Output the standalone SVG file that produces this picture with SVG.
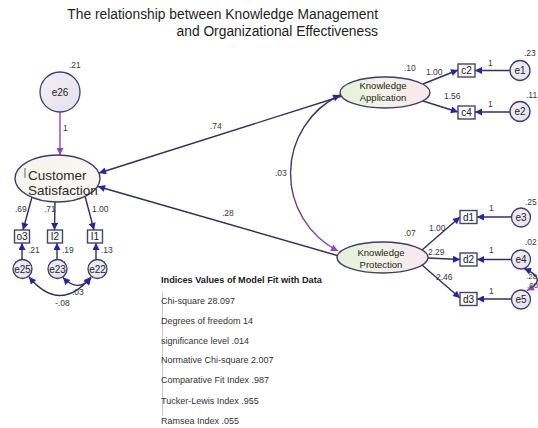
<svg xmlns="http://www.w3.org/2000/svg" width="538" height="428" viewBox="0 0 538 428">
  <style>
    text { font-family: "Liberation Sans", Arial, sans-serif; fill: #2a2a2a; }
    .title { font-size: 13.8px; text-anchor: end; fill: #1e1e1e; }
    .lbl { font-size: 8.5px; fill: #3a3a3a; }
    .nm { font-size: 9.5px; text-anchor: middle; fill: #222; }
    .var { font-size: 10px; text-anchor: middle; fill: #222; }
    .ell { stroke: #3c3c6e; stroke-width: 1.4; }
    .circ { fill: url(#gCirc); stroke: #3c3c6e; stroke-width: 1.3; }
    .box { fill: #fbfbfb; stroke: #45456e; stroke-width: 1.4; }
    .path { fill: none; stroke: #2e2e6a; stroke-width: 1.4; }
    .fit { font-size: 9px; fill: #333; }
    .fit-h { font-size: 9.2px; font-weight: bold; fill: #222; }
  </style>
  <defs>
    <linearGradient id="gLat" x1="0" y1="0" x2="1" y2="0">
      <stop offset="0" stop-color="#e4f1d6"/>
      <stop offset="0.5" stop-color="#f3f2e6"/>
      <stop offset="1" stop-color="#f8e6ee"/>
    </linearGradient>
    <linearGradient id="gCS" x1="0" y1="0" x2="1" y2="0">
      <stop offset="0" stop-color="#f3f5ea"/>
      <stop offset="1" stop-color="#faf6f2"/>
    </linearGradient>
    <linearGradient id="gCirc" x1="0" y1="0" x2="1" y2="1">
      <stop offset="0" stop-color="#f1eef6"/>
      <stop offset="1" stop-color="#e6e2ee"/>
    </linearGradient>
    <linearGradient id="gArc" x1="0" y1="96" x2="0" y2="252" gradientUnits="userSpaceOnUse">
      <stop offset="0" stop-color="#2e2e6a"/>
      <stop offset="0.6" stop-color="#4a3a86"/>
      <stop offset="1" stop-color="#9b45d0"/>
    </linearGradient>
    <marker id="ahB" viewBox="0 0 10 10" refX="10" refY="5" markerWidth="9" markerHeight="7" markerUnits="userSpaceOnUse" orient="auto-start-reverse">
      <path d="M0,0 L10,5 L0,10 z" fill="#2222b4"/>
    </marker>
    <marker id="ahP" viewBox="0 0 10 10" refX="10" refY="5" markerWidth="9" markerHeight="7" markerUnits="userSpaceOnUse" orient="auto-start-reverse">
      <path d="M0,0 L10,5 L0,10 z" fill="#9440cc"/>
    </marker>
  </defs>

  <rect width="538" height="428" fill="#ffffff"/>

  <!-- heading -->
  <text class="title" x="378" y="19">The relationship between Knowledge Management</text>
  <text class="title" x="378" y="36">and Organizational Effectiveness</text>

  <!-- connectors -->
  <g id="connectors">
    <!-- structural paths -->
    <line class="path" x1="342" y1="96" x2="99" y2="173" marker-end="url(#ahB)"/>
    <line class="path" x1="339" y1="256" x2="98" y2="186.5" marker-end="url(#ahB)"/>
    <path d="M 340,95 A 87 87 0 0 0 338,251" fill="none" stroke="url(#gArc)" stroke-width="1.4" marker-start="url(#ahB)" marker-end="url(#ahP)"/>
    <!-- disturbance -->
    <line x1="60" y1="112" x2="60" y2="155" stroke="#9440cc" stroke-width="1.4" marker-end="url(#ahP)"/>
    <!-- Customer Satisfaction indicators -->
    <line class="path" x1="32" y1="197" x2="23" y2="230" marker-end="url(#ahB)"/>
    <line class="path" x1="55" y1="202" x2="54.5" y2="230" marker-end="url(#ahB)"/>
    <line class="path" x1="85" y1="196" x2="94" y2="230" marker-end="url(#ahB)"/>
    <line class="path" x1="22" y1="259.5" x2="22" y2="243" marker-end="url(#ahB)"/>
    <line class="path" x1="57" y1="259.5" x2="57" y2="243" marker-end="url(#ahB)"/>
    <line class="path" x1="96" y1="259.5" x2="96" y2="243" marker-end="url(#ahB)"/>
    <path class="path" d="M 29,277 Q 60,314 91,277" marker-start="url(#ahB)" marker-end="url(#ahB)"/>
    <path class="path" d="M 63,277.5 Q 78,293 91,278" marker-start="url(#ahB)" marker-end="url(#ahB)"/>
    <!-- Knowledge Application indicators -->
    <line class="path" x1="423" y1="84" x2="458" y2="70" marker-end="url(#ahB)"/>
    <line class="path" x1="423" y1="101" x2="458" y2="112" marker-end="url(#ahB)"/>
    <line class="path" x1="510" y1="70.5" x2="475" y2="70.5" marker-end="url(#ahB)"/>
    <line class="path" x1="510" y1="112" x2="475" y2="112" marker-end="url(#ahB)"/>
    <!-- Knowledge Protection indicators -->
    <line class="path" x1="422" y1="250" x2="460" y2="217" marker-end="url(#ahB)"/>
    <line class="path" x1="428" y1="258" x2="460" y2="259.5" marker-end="url(#ahB)"/>
    <line class="path" x1="422" y1="265" x2="460" y2="298" marker-end="url(#ahB)"/>
    <line class="path" x1="511.5" y1="217" x2="477" y2="217" marker-end="url(#ahB)"/>
    <line class="path" x1="511.5" y1="259.5" x2="477" y2="259.5" marker-end="url(#ahB)"/>
    <line class="path" x1="511.5" y1="299" x2="477" y2="299" marker-end="url(#ahB)"/>
    <path class="path" d="M 524,268.5 Q 549,279 527,290.5" marker-start="url(#ahB)" marker-end="url(#ahP)"/>
  </g>

  <!-- path coefficients and variances -->
  <g id="estimates">
    <text class="lbl" x="210" y="129">.74</text>
    <text class="lbl" x="222" y="216">.28</text>
    <text class="lbl" x="275" y="176">.03</text>
    <text class="lbl" x="63" y="131">1</text>
    <text class="lbl" x="69" y="68">.21</text>
    <text class="lbl" x="15" y="212">.69</text>
    <text class="lbl" x="44" y="212">.71</text>
    <text class="lbl" x="92" y="212">1.00</text>
    <text class="lbl" x="28" y="253">.21</text>
    <text class="lbl" x="62" y="253">.19</text>
    <text class="lbl" x="101" y="253">.13</text>
    <text class="lbl" x="72" y="295">.03</text>
    <text class="lbl" x="55" y="306">-.08</text>
    <text class="lbl" x="404" y="71">.10</text>
    <text class="lbl" x="426" y="75">1.00</text>
    <text class="lbl" x="444" y="99">1.56</text>
    <text class="lbl" x="488" y="66">1</text>
    <text class="lbl" x="488" y="107">1</text>
    <text class="lbl" x="524" y="56">.23</text>
    <text class="lbl" x="526" y="98">.11</text>
    <text class="lbl" x="404" y="236">.07</text>
    <text class="lbl" x="429" y="231">1.00</text>
    <text class="lbl" x="428" y="255">2.29</text>
    <text class="lbl" x="436" y="280">2.46</text>
    <text class="lbl" x="489" y="211">1</text>
    <text class="lbl" x="489" y="253">1</text>
    <text class="lbl" x="489" y="294">1</text>
    <text class="lbl" x="525" y="205">.25</text>
    <text class="lbl" x="525" y="245">.02</text>
    <text class="lbl" x="526" y="279" style="font-size:8px">.28</text>
    <text class="lbl" x="527" y="288" style="font-size:8px">.05</text>
  </g>

  <!-- disturbance e26 -->
  <g id="e26">
    <circle class="circ" cx="60" cy="92" r="20"/>
    <text class="var" x="60" y="95.5">e26</text>
  </g>

  <!-- latent: Customer Satisfaction -->
  <g id="customer-satisfaction">
    <ellipse class="ell" cx="57.5" cy="178.5" rx="42.5" ry="23.5" fill="url(#gCS)"/>
    <line x1="25" y1="168" x2="25" y2="178" stroke="#444" stroke-width="0.8"/>
    <text x="28" y="180" style="font-size:13.5px" fill="#1e1e1e">Customer</text>
    <text x="28" y="195" style="font-size:13.5px" fill="#1e1e1e">Satisfaction</text>
  </g>

  <!-- latent: Knowledge Application -->
  <g id="knowledge-application">
    <ellipse class="ell" cx="385" cy="92.5" rx="45" ry="15.5" fill="url(#gLat)"/>
    <text class="nm" x="383" y="88.5">Knowledge</text>
    <text class="nm" x="383" y="100.5">Application</text>
  </g>

  <!-- latent: Knowledge Protection -->
  <g id="knowledge-protection">
    <ellipse class="ell" cx="382.5" cy="257.5" rx="45.5" ry="15.5" fill="url(#gLat)"/>
    <text class="nm" x="381" y="255.5">Knowledge</text>
    <text class="nm" x="381" y="267.5">Protection</text>
  </g>

  <!-- observed: Customer Satisfaction items -->
  <g id="o3"><rect class="box" x="14.5" y="230" width="15" height="13"/><text class="var" x="22" y="240">o3</text></g>
  <g id="I2"><rect class="box" x="47.5" y="230" width="15" height="13"/><text class="var" x="55" y="240">I2</text></g>
  <g id="I1"><rect class="box" x="87.5" y="230" width="15" height="13"/><text class="var" x="95" y="240">I1</text></g>

  <g id="e25"><circle class="circ" cx="22.5" cy="269" r="9.5"/><text class="var" x="22.5" y="272.5">e25</text></g>
  <g id="e23"><circle class="circ" cx="57.5" cy="269" r="9.5"/><text class="var" x="57.5" y="272.5">e23</text></g>
  <g id="e22"><circle class="circ" cx="97.5" cy="269" r="9.5"/><text class="var" x="97.5" y="272.5">e22</text></g>

  <!-- observed: Knowledge Application items -->
  <g id="c2"><rect class="box" x="458" y="64" width="17" height="13"/><text class="var" x="466.5" y="74">c2</text></g>
  <g id="c4"><rect class="box" x="458" y="106" width="17" height="13"/><text class="var" x="466.5" y="116">c4</text></g>
  <g id="e1"><circle class="circ" cx="520" cy="70.5" r="10"/><text class="var" x="520" y="74">e1</text></g>
  <g id="e2"><circle class="circ" cx="520" cy="111.5" r="10"/><text class="var" x="520" y="115">e2</text></g>

  <!-- observed: Knowledge Protection items -->
  <g id="d1"><rect class="box" x="460" y="210.5" width="17" height="13"/><text class="var" x="468.5" y="220.5">d1</text></g>
  <g id="d2"><rect class="box" x="460" y="253" width="17" height="13"/><text class="var" x="468.5" y="263">d2</text></g>
  <g id="d3"><rect class="box" x="460" y="292.5" width="17" height="13"/><text class="var" x="468.5" y="302.5">d3</text></g>
  <g id="e3"><circle class="circ" cx="521" cy="217.5" r="9.5"/><text class="var" x="521" y="221">e3</text></g>
  <g id="e4"><circle class="circ" cx="521" cy="259.5" r="9.5"/><text class="var" x="521" y="263">e4</text></g>
  <g id="e5"><circle class="circ" cx="521" cy="299.5" r="9.5"/><text class="var" x="521" y="303">e5</text></g>

  <!-- model fit summary -->
  <g id="fit-indices">
    <line x1="162.5" y1="292" x2="162.5" y2="416" stroke="#c8c8c8" stroke-width="1"/>
    <text class="fit-h" x="161" y="283">Indices Values of Model Fit with Data</text>
    <text class="fit" x="161" y="304">Chi-square 28.097</text>
    <text class="fit" x="161" y="323.5">Degrees of freedom 14</text>
    <text class="fit" x="161" y="343.5">significance level .014</text>
    <text class="fit" x="161" y="363">Normative Chi-square 2.007</text>
    <text class="fit" x="161" y="383">Comparative Fit Index .987</text>
    <text class="fit" x="161" y="403.5">Tucker-Lewis Index .955</text>
    <text class="fit" x="161" y="424">Ramsea Index .055</text>
  </g>
</svg>
